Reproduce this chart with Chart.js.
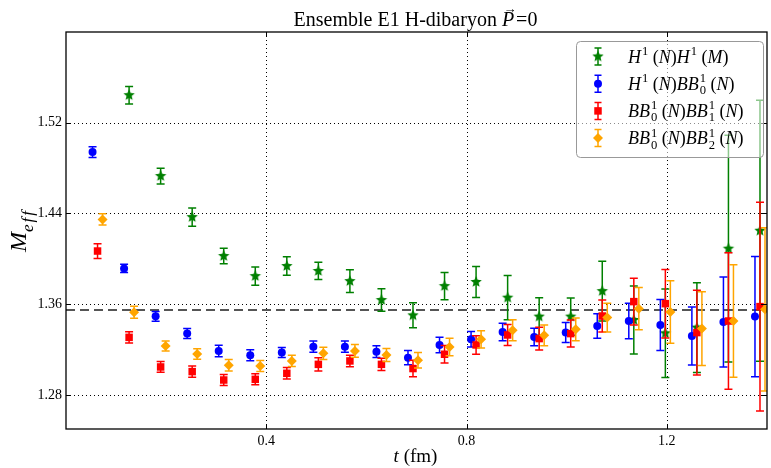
<!DOCTYPE html>
<html>
<head>
<meta charset="utf-8">
<script src="https://cdn.jsdelivr.net/npm/chart.js@4.4.1/dist/chart.umd.min.js"></script>
<style>
  html, body { margin: 0; padding: 0; background: #fff; overflow: hidden; }
  #wrap { width: 771px; height: 468px; overflow: hidden; }
</style>
</head>
<body>
<div id="wrap"><canvas id="effMass" width="773" height="468"></canvas></div>
<script>
// time slices (fm)
const tValues = [0.063, 0.126, 0.189, 0.252, 0.315, 0.378, 0.441, 0.504, 0.567, 0.630, 0.693,
                 0.756, 0.819, 0.882, 0.945, 1.008, 1.071, 1.134, 1.197, 1.260, 1.323, 1.386];

// H1(N)H1(M)  - green stars
const mHH   = [null, 1.5443, 1.4730, 1.4368, 1.4025, 1.3848, 1.3937, 1.3893, 1.3804, 1.3637, 1.3502,
               1.3760, 1.3796, 1.3658, 1.3491, 1.3491, 1.3716, 1.3461, 1.3344, 1.3394, 1.4090, 1.4248];
const errHH = [null, 0.0077, 0.0069, 0.0080, 0.0069, 0.0081, 0.0081, 0.0076, 0.0100, 0.0100, 0.0110,
               0.0120, 0.0137, 0.0195, 0.0167, 0.0164, 0.0264, 0.0300, 0.0390, 0.0396, 0.1000, 0.1150];

// H1(N)BB0(N) - blue circles
const mHB   = [1.4941, 1.3916, 1.3493, 1.3341, 1.3188, 1.3150, 1.3174, 1.3226, 1.3226, 1.3182, 1.3129,
               1.3241, 1.3291, 1.3355, 1.3311, 1.3350, 1.3408, 1.3452, 1.3417, 1.3320, 1.3443, 1.3491];
const errHB = [0.0047, 0.0037, 0.0042, 0.0044, 0.0050, 0.0048, 0.0044, 0.0050, 0.0050, 0.0051, 0.0062,
               0.0068, 0.0069, 0.0078, 0.0078, 0.0088, 0.0107, 0.0156, 0.0225, 0.0256, 0.0396, 0.0530];

// BB0(N)BB1(N) - red squares
const mB01   = [1.4069, 1.3308, 1.3047, 1.3006, 1.2932, 1.2938, 1.2991, 1.3070, 1.3100, 1.3070, 1.3033,
                1.3159, 1.3241, 1.3329, 1.3297, 1.3341, 1.3496, 1.3623, 1.3605, 1.3350, 1.3452, 1.3579];
const errB01 = [0.0065, 0.0050, 0.0047, 0.0050, 0.0048, 0.0048, 0.0051, 0.0059, 0.0051, 0.0054, 0.0073,
                0.0078, 0.0081, 0.0093, 0.0101, 0.0119, 0.0141, 0.0207, 0.0302, 0.0373, 0.0602, 0.0920];

// BB0(N)BB2(N) - orange diamonds
const mB02   = [1.4348, 1.3529, 1.3232, 1.3161, 1.3062, 1.3055, 1.3100, 1.3167, 1.3188, 1.3152, 1.3106,
                1.3223, 1.3291, 1.3370, 1.3326, 1.3379, 1.3482, 1.3561, 1.3531, 1.3385, 1.3452, 1.3555];
const errB02 = [0.0050, 0.0053, 0.0044, 0.0047, 0.0050, 0.0048, 0.0050, 0.0054, 0.0056, 0.0057, 0.0068,
                0.0078, 0.0076, 0.0093, 0.0091, 0.0100, 0.0126, 0.0187, 0.0275, 0.0326, 0.0496, 0.0720];

const plateau = 1.355;
const xTicks = [0.4, 0.8, 1.2];
const yTicks = [1.28, 1.36, 1.44, 1.52];

// legend labels, written as [text, kind] pieces (it = italic, rm = roman, sup / ss = sub+sup)
const legendLabels = [
  [['H','it'],['1','sup'],[' (','rm'],['N','it'],[')','rm'],['H','it'],['1','sup'],[' (','rm'],['M','it'],[')','rm']],
  [['H','it'],['1','sup'],[' (','rm'],['N','it'],[')','rm'],['BB','it'],[['0','1'],'ss'],[' (','rm'],['N','it'],[')','rm']],
  [['BB','it'],[['0','1'],'ss'],[' (','rm'],['N','it'],[')','rm'],['BB','it'],[['1','1'],'ss'],[' (','rm'],['N','it'],[')','rm']],
  [['BB','it'],[['0','1'],'ss'],[' (','rm'],['N','it'],[')','rm'],['BB','it'],[['2','1'],'ss'],[' (','rm'],['N','it'],[')','rm']]
];

const SERIF = '"Liberation Serif", "DejaVu Serif", serif';
const GREEN = '#008000', BLUE = '#0000ff', RED = '#ff0000', ORANGE = '#ffa500';

function makeStar(color, r) {
  const c = document.createElement('canvas');
  const s = Math.ceil(r * 2 + 2);
  c.width = s; c.height = s;
  const g = c.getContext('2d');
  g.beginPath();
  for (let i = 0; i < 10; i++) {
    const rr = i % 2 === 0 ? r : r * 0.45;
    const a = -Math.PI / 2 + i * Math.PI / 5;
    g.lineTo(s / 2 + rr * Math.cos(a), s / 2 + rr * Math.sin(a));
  }
  g.closePath();
  g.fillStyle = color;
  g.fill();
  return c;
}
const starImg = makeStar(GREEN, 6);

function series(label, vals, errs, color, style, radius, dx) {
  return {
    label: label,
    errors: errs,
    barColor: color,
    data: tValues.map((t, i) => ({ x: t + dx, y: vals[i] })),
    pointStyle: style,
    pointRadius: radius,
    pointBackgroundColor: color,
    pointBorderColor: color,
    pointBorderWidth: 0,
    showLine: false
  };
}

const datasets = [
  series('BB0 BB2', mB02, errB02, ORANGE, 'rectRot', 5, 0.01),
  series('BB0 BB1', mB01, errB01, RED, 'rect', 5.3, 0),
  series('H BB0', mHB, errHB, BLUE, 'circle', 4, -0.01),
  series('H H', mHH, errHH, GREEN, starImg, 6, 0),
  {
    label: 'plateau',
    data: [{ x: 0, y: plateau }, { x: 1.4, y: plateau }],
    showLine: true,
    borderColor: '#555',
    borderWidth: 2,
    borderDash: [9, 5],
    pointRadius: 0
  }
];

function drawBar(ctx, x, yTop, yBot, cap) {
  ctx.beginPath();
  ctx.moveTo(x, yTop); ctx.lineTo(x, yBot);
  ctx.moveTo(x - cap, yTop); ctx.lineTo(x + cap, yTop);
  ctx.moveTo(x - cap, yBot); ctx.lineTo(x + cap, yBot);
  ctx.stroke();
}

const errorBars = {
  id: 'errorBars',
  beforeDatasetDraw(chart, args) {
    const ds = chart.data.datasets[args.index];
    if (!ds.errors) return;
    const { ctx, chartArea, scales: { x, y } } = chart;
    ctx.save();
    ctx.beginPath();
    ctx.rect(chartArea.left, chartArea.top, chartArea.right - chartArea.left, chartArea.bottom - chartArea.top);
    ctx.clip();
    ctx.strokeStyle = ds.barColor;
    ctx.lineWidth = 1.5;
    ds.data.forEach((p, j) => {
      if (p.y == null) return;
      const px = x.getPixelForValue(p.x);
      drawBar(ctx, px, y.getPixelForValue(p.y + ds.errors[j]), y.getPixelForValue(p.y - ds.errors[j]), 4);
    });
    ctx.restore();
  }
};

const frame = {
  id: 'frame',
  beforeDatasetsDraw(chart) {
    const { ctx, chartArea: a, scales: { x, y } } = chart;
    ctx.save();
    ctx.strokeStyle = '#000';
    ctx.lineWidth = 1;
    ctx.setLineDash([1, 3]);
    xTicks.forEach(v => {
      const px = Math.round(x.getPixelForValue(v)) + 0.5;
      ctx.beginPath(); ctx.moveTo(px, a.top); ctx.lineTo(px, a.bottom); ctx.stroke();
    });
    yTicks.forEach(v => {
      const py = Math.round(y.getPixelForValue(v)) + 0.5;
      ctx.beginPath(); ctx.moveTo(a.left, py); ctx.lineTo(a.right, py); ctx.stroke();
    });
    ctx.restore();
  },
  afterDatasetsDraw(chart) {
    const { ctx, chartArea: a, scales: { x, y } } = chart;
    ctx.save();
    ctx.strokeStyle = '#000';
    ctx.lineWidth = 1.3;
    ctx.strokeRect(a.left, a.top, a.right - a.left, a.bottom - a.top);
    ctx.lineWidth = 1;
    ctx.beginPath();
    xTicks.forEach(v => {
      const px = Math.round(x.getPixelForValue(v)) + 0.5;
      ctx.moveTo(px, a.bottom); ctx.lineTo(px, a.bottom - 5);
      ctx.moveTo(px, a.top); ctx.lineTo(px, a.top + 5);
    });
    yTicks.forEach(v => {
      const py = Math.round(y.getPixelForValue(v)) + 0.5;
      ctx.moveTo(a.left, py); ctx.lineTo(a.left + 5, py);
      ctx.moveTo(a.right, py); ctx.lineTo(a.right - 6, py);
    });
    ctx.stroke();
    ctx.restore();
  }
};

// small mathtext-like renderer
function mathPiece(ctx, piece, size, draw, x, y) {
  const [txt, kind] = piece;
  const small = size * 0.7;
  if (kind === 'it' || kind === 'rm') {
    ctx.font = (kind === 'it' ? 'italic ' : '') + size + 'px ' + SERIF;
    if (draw) ctx.fillText(txt, x, y);
    return ctx.measureText(txt).width;
  }
  ctx.font = small + 'px ' + SERIF;
  if (kind === 'sup') {
    if (draw) ctx.fillText(txt, x + 1, y - size * 0.42);
    return ctx.measureText(txt).width + 1;
  }
  if (kind === 'sub') {
    if (draw) ctx.fillText(txt, x + 1, y + size * 0.25);
    return ctx.measureText(txt).width + 1;
  }
  // stacked sub + sup
  if (draw) {
    ctx.fillText(txt[0], x + 1, y + size * 0.25);
    ctx.fillText(txt[1], x + 1, y - size * 0.42);
  }
  return Math.max(ctx.measureText(txt[0]).width, ctx.measureText(txt[1]).width) + 1;
}

function drawMath(ctx, pieces, x, y, size, align) {
  let w = 0;
  pieces.forEach(p => { w += mathPiece(ctx, p, size, false, 0, 0); });
  let cx = align === 'center' ? x - w / 2 : x;
  ctx.textAlign = 'left';
  ctx.textBaseline = 'alphabetic';
  pieces.forEach(p => { cx += mathPiece(ctx, p, size, true, cx, y); });
  return w;
}

const labels = {
  id: 'labels',
  afterDraw(chart) {
    const { ctx, chartArea: a } = chart;
    ctx.save();
    ctx.fillStyle = '#000';

    // title
    const mid = (a.left + a.right) / 2 - 1;
    ctx.font = '20px ' + SERIF;
    const t1 = 'Ensemble E1 H-dibaryon ';
    const w1 = ctx.measureText(t1).width;
    ctx.font = 'italic 20px ' + SERIF;
    const wP = ctx.measureText('P').width;
    ctx.font = '20px ' + SERIF;
    const w3 = ctx.measureText('=0').width;
    let tx = mid - (w1 + wP + w3 + 2) / 2;
    ctx.textBaseline = 'alphabetic';
    ctx.textAlign = 'left';
    ctx.fillText(t1, tx, 26);
    ctx.font = 'italic 20px ' + SERIF;
    ctx.fillText('P', tx + w1, 26);
    ctx.font = '13px ' + SERIF;
    ctx.textAlign = 'center';
    ctx.fillText('\u2192', tx + w1 + wP / 2 + 2, 13);
    ctx.textAlign = 'left';
    ctx.font = '20px ' + SERIF;
    ctx.fillText('=0', tx + w1 + wP + 2, 26);

    // x label
    drawMath(ctx, [['t', 'it'], [' (fm)', 'rm']], mid, 462, 19, 'center');

    // y label
    ctx.save();
    ctx.translate(0, (a.top + a.bottom) / 2);
    ctx.rotate(-Math.PI / 2);
    ctx.font = 'italic 24px ' + SERIF;
    const wM = ctx.measureText('M').width;
    ctx.font = 'italic 17px ' + SERIF;
    ctx.letterSpacing = '2px';
    const wE = ctx.measureText('eff').width;
    const sx = -(wM + wE) / 2;
    ctx.font = 'italic 24px ' + SERIF;
    ctx.letterSpacing = '0px';
    ctx.fillText('M', sx, 26);
    ctx.font = 'italic 17px ' + SERIF;
    ctx.letterSpacing = '2px';
    ctx.fillText('eff', sx + wM, 33);
    ctx.restore();

    // legend
    const bx = 576, by = 41, bw = 187, bh = 116;
    ctx.beginPath();
    ctx.roundRect(bx + 0.5, by + 0.5, bw, bh, 4);
    ctx.fillStyle = 'rgba(255,255,255,0.55)';
    ctx.fill();
    ctx.strokeStyle = '#999';
    ctx.lineWidth = 1;
    ctx.stroke();
    const styles = [
      { color: GREEN, style: starImg, r: 6 },
      { color: BLUE, style: 'circle', r: 4 },
      { color: RED, style: 'rect', r: 5.3 },
      { color: ORANGE, style: 'rectRot', r: 5 }
    ];
    styles.forEach((s, i) => {
      const ry = 56.5 + i * 27.2;
      ctx.strokeStyle = s.color;
      ctx.lineWidth = 1.5;
      drawBar(ctx, 598, ry - 8.5, ry + 8.5, 3.5);
      ctx.fillStyle = s.color;
      Chart.helpers.drawPoint(ctx, { pointStyle: s.style, radius: s.r, rotation: 0, borderWidth: 0 }, 598, ry);
      ctx.fillStyle = '#000';
      drawMath(ctx, legendLabels[i], 628, ry + 6, 18, 'left');
    });
    ctx.restore();
  }
};

const ctx = document.getElementById('effMass').getContext('2d');
new Chart(ctx, {
  type: 'scatter',
  data: { datasets: datasets },
  options: {
    responsive: false,
    animation: false,
    layout: { padding: { top: 32, right: 0, bottom: 0, left: 0 } },
    plugins: {
      legend: { display: false },
      title: { display: false },
      tooltip: { enabled: false }
    },
    scales: {
      x: {
        type: 'linear',
        min: 0,
        max: 1.4,
        grid: { display: false, drawTicks: false },
        border: { display: false },
        afterBuildTicks: s => { s.ticks = xTicks.map(v => ({ value: v })); },
        afterFit: s => { s.height = 39; },
        ticks: {
          color: '#000',
          padding: 4,
          font: { family: SERIF, size: 14 },
          callback: v => v.toFixed(1)
        }
      },
      y: {
        min: 1.25,
        max: 1.60,
        grid: { display: false, drawTicks: false },
        border: { display: false },
        afterBuildTicks: s => { s.ticks = yTicks.map(v => ({ value: v })); },
        afterFit: s => { s.width = 66; },
        ticks: {
          color: '#000',
          padding: 4,
          font: { family: SERIF, size: 14 },
          callback: v => v.toFixed(2)
        }
      }
    }
  },
  plugins: [frame, errorBars, labels]
});
</script>
</body>
</html>
